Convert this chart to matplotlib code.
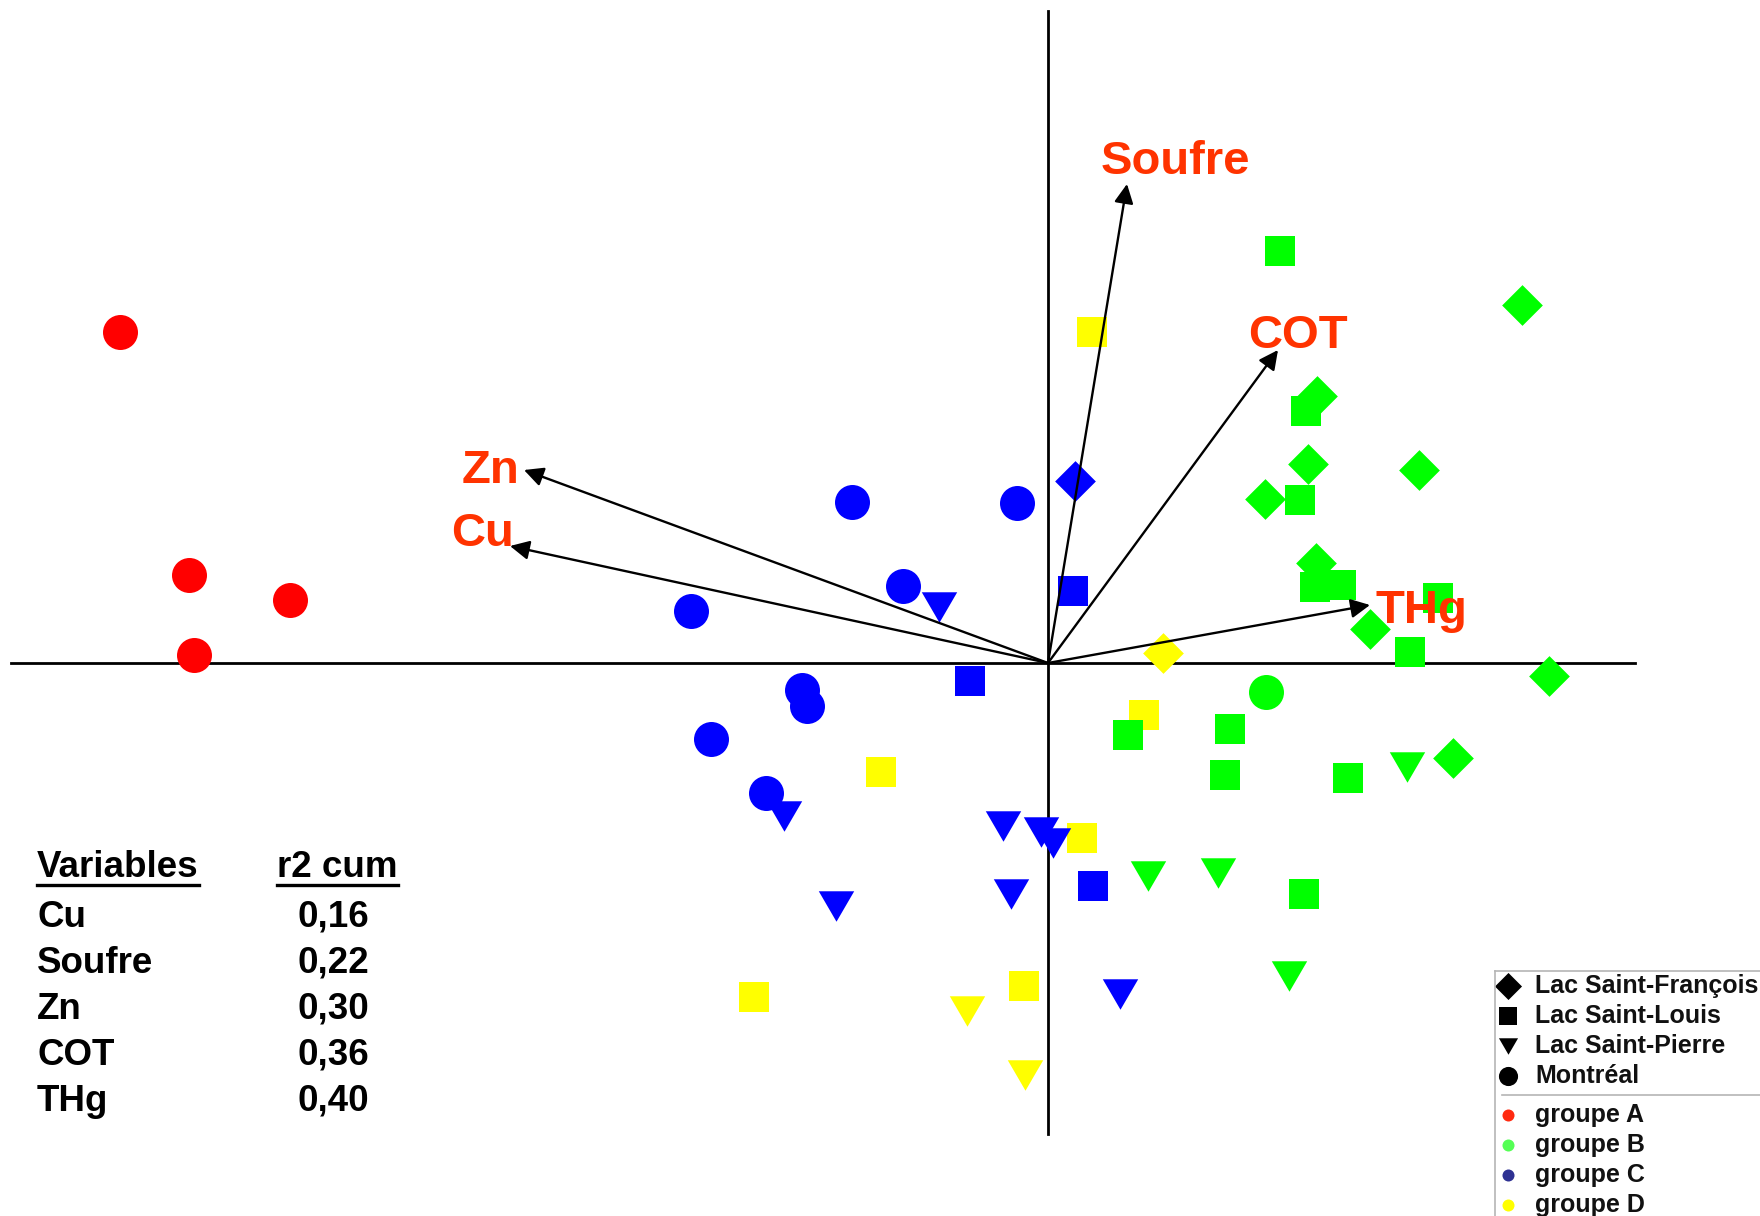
import numpy as np
import matplotlib.pyplot as plt
from matplotlib.lines import Line2D

# Scores des stations sur les deux premiers axes (unités arbitraires)
groupe = (['D'] * 9 + ['B'] * 26 + ['C'] * 20 + ['A'] * 4)
site = (['SL'] * 6 + ['SF'] + ['SP'] * 2 +
        ['SL'] * 12 + ['SF'] * 9 + ['SP'] * 4 + ['MTL'] +
        ['MTL'] * 8 + ['SF'] + ['SL'] * 3 + ['SP'] * 8 +
        ['MTL'] * 4)
score_x = [0.44, -1.67, 0.34, 0.96, -2.94, -0.24, 1.15, -0.81, -0.23,
           2.32, 2.58, 2.52, 2.67, 2.93, 3.90, 3.62, 0.80, 1.82, 1.77, 3.00, 2.56,
           4.74, 2.69, 2.60, 3.71, 2.17, 2.68, 3.22, 5.01, 4.05,
           3.59, 1.00, 1.70, 2.41, 2.18,
           -1.96, -0.31, -1.45, -3.57, -2.46, -2.41, -3.37, -2.82,
           0.27, 0.25, -0.78, 0.45,
           -1.09, -2.64, -0.45, -0.07, 0.05, -2.12, -0.37, 0.72,
           -9.28, -8.59, -7.58, -8.54]
score_y = [3.31, -1.09, -1.75, -0.52, -3.34, -3.23, 0.10, -3.48, -4.12,
           4.12, 2.52, 1.63, 0.76, 0.78, 0.65, 0.11, -0.72, -0.66, -1.12, -1.15, -2.31,
           3.58, 2.67, 1.99, 1.93, 1.64, 1.00, 0.34, -0.13, -0.95,
           -1.04, -2.13, -2.10, -3.13, -0.29,
           1.61, 1.60, 0.77, 0.52, -0.27, -0.43, -0.76, -1.30,
           1.82, 0.72, -0.18, -2.23,
           0.56, -1.53, -1.63, -1.69, -1.80, -2.43, -2.31, -3.31,
           3.31, 0.88, 0.63, 0.08]

# Vecteurs des variables
var_names = ['Soufre', 'COT', 'THg', 'Zn', 'Cu']
var_x = [0.79, 2.30, 3.22, -5.24, -5.38]
var_y = [4.79, 3.13, 0.58, 1.93, 1.17]

# Tableau des r2 cumulés
table_vars = ['Cu', 'Soufre', 'Zn', 'COT', 'THg']
table_r2 = ['0,16', '0,22', '0,30', '0,36', '0,40']

site_labels = {'SF': 'Lac Saint-François', 'SL': 'Lac Saint-Louis',
               'SP': 'Lac Saint-Pierre', 'MTL': 'Montréal'}
groupe_labels = {'A': 'groupe A', 'B': 'groupe B', 'C': 'groupe C', 'D': 'groupe D'}

W, H = 1760, 1216
TRI = [(-1, 0.86), (1, 0.86), (0, -0.86)]
markers = {'SF': 'D', 'SL': 's', 'SP': TRI, 'MTL': 'o'}
sizes = {'SF': 430, 'SL': 490, 'SP': 650, 'MTL': 635}
colors = {'A': '#ff0000', 'B': '#00ff00', 'C': '#0000ff', 'D': '#ffff00'}
legend_colors = {'A': '#ff2a10', 'B': '#55ff55', 'C': '#2e3192', 'D': '#ffff00'}
label_color = '#ff3300'
FONT = 'Liberation Sans'

# position des étiquettes des vecteurs (x centre, ligne de base)
label_pos = {'Soufre': (1.27, 4.89), 'COT': (2.50, 3.15), 'THg': (3.73, 0.40),
             'Zn': (-5.58, 1.80), 'Cu': (-5.66, 1.17)}


def fpx(xp, yp):
    """pixels (depuis le coin haut gauche) -> fraction de la figure"""
    return xp / W, 1 - yp / H


def main():
    plt.rcParams['font.family'] = [FONT, 'DejaVu Sans']
    fig = plt.figure(figsize=(W / 100, H / 100), dpi=100)
    ax = fig.add_axes([0, 0, 1, 1])
    ax.set_xlim(-10.48, 7.12)
    ax.set_ylim(-5.53, 6.63)
    ax.set_axis_off()

    # axes de l'ordination
    ax.plot([-10.37, 5.87], [0, 0], color='black', lw=2.0, zorder=1)
    ax.plot([0, 0], [-4.71, 6.52], color='black', lw=2.0, zorder=1)

    # points, groupe par groupe
    gx = np.array(score_x)
    gy = np.array(score_y)
    g = np.array(groupe)
    s = np.array(site)
    for k, grp in enumerate(['D', 'B', 'C', 'A']):
        for st in ['SL', 'SF', 'SP', 'MTL']:
            m = (g == grp) & (s == st)
            if m.any():
                ax.scatter(gx[m], gy[m], s=sizes[st], marker=markers[st],
                           color=colors[grp], linewidths=0, zorder=2 + k)

    # vecteurs
    for name, vx, vy in zip(var_names, var_x, var_y):
        ax.annotate('', xy=(vx, vy), xytext=(0, 0),
                    arrowprops=dict(arrowstyle='-|>', color='black', lw=1.7,
                                    mutation_scale=29, shrinkA=0, shrinkB=0),
                    zorder=8)
        lx, ly = label_pos[name]
        ax.text(lx, ly, name, color=label_color, fontsize=34, weight='bold',
                ha='center', va='baseline', zorder=9)

    # tableau des variables
    tfs = 26.5
    h1 = fig.text(*fpx(37, 877), 'Variables', fontsize=tfs, weight='bold', va='baseline')
    h2 = fig.text(*fpx(277, 877), 'r2 cum', fontsize=tfs, weight='bold', va='baseline')
    for i, (v, r) in enumerate(zip(table_vars, table_r2)):
        yb = 927 + 46 * i
        fig.text(*fpx(37, yb), v, fontsize=tfs, weight='bold', va='baseline')
        fig.text(*fpx(297, yb), r, fontsize=tfs, weight='bold', va='baseline')
    fig.canvas.draw()
    r = fig.canvas.get_renderer()
    for h in (h1, h2):
        bb = h.get_window_extent(r)
        yl = 1 - 885 / H
        fig.add_artist(Line2D([bb.x0 / W, bb.x1 / W], [yl, yl], color='black',
                              lw=2.4, transform=fig.transFigure))

    # légende
    lax = fig.add_axes([1495 / W, 0, (W - 1495) / W, (H - 971) / H])
    lax.set_xlim(0, W - 1495)
    lax.set_ylim(H - 971, 0)
    lax.set_xticks([])
    lax.set_yticks([])
    lax.patch.set_alpha(0)
    for sp in ('right', 'bottom'):
        lax.spines[sp].set_visible(False)
    for sp in ('left', 'top'):
        lax.spines[sp].set_color('#b5b5b5')
        lax.spines[sp].set_linewidth(1.2)
    leg_sizes = {'SF': 190, 'SL': 150, 'SP': 190, 'MTL': 190}
    for i, st in enumerate(['SF', 'SL', 'SP', 'MTL']):
        yy = 15 + 30 * i
        lax.scatter([13], [yy], s=leg_sizes[st], marker=markers[st], color='black',
                    linewidths=0, clip_on=False)
        lax.text(40, yy, site_labels[st], fontsize=18, weight='bold',
                 va='center', ha='left', color='#111111')
    lax.plot([7, W - 1495], [124, 124], color='#b5b5b5', lw=1.2)
    for i, grp in enumerate(['A', 'B', 'C', 'D']):
        yy = 144 + 30 * i
        lax.scatter([13], [yy], s=75, marker='o', color=legend_colors[grp],
                    linewidths=0, clip_on=False)
        lax.text(40, yy, groupe_labels[grp], fontsize=18, weight='bold',
                 va='center', ha='left', color='#111111')

    fig.savefig('out.png', dpi=100)


if __name__ == "__main__":
    main()
